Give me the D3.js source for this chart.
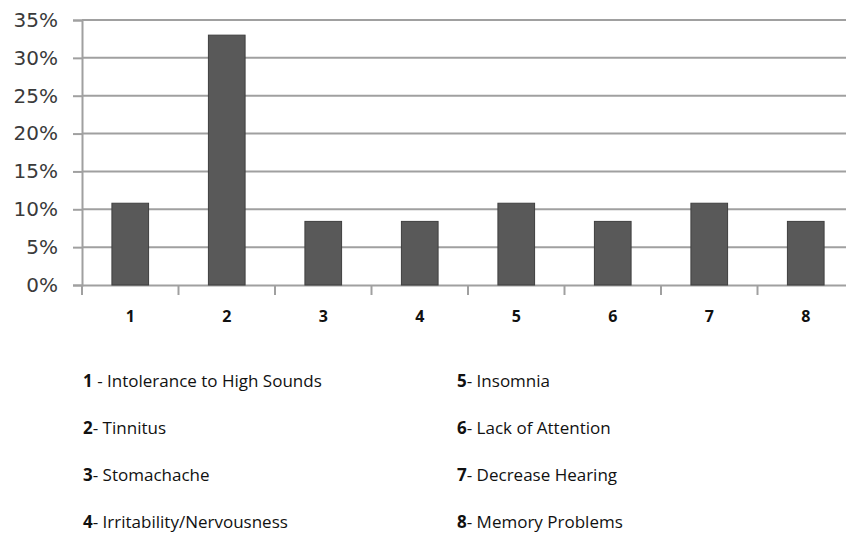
<!DOCTYPE html>
<html lang="en">
<head>
<meta charset="UTF-8">
<title>Symptoms chart</title>
<script src="https://d3js.org/d3.v7.min.js"></script>
<style>
    body { margin: 0; background: #fff; }
    svg { display: block; }
</style>
</head>
<body>
<script>

// data
const categories = ['1', '2', '3', '4', '5', '6', '7', '8'];
const values = [10.8, 33.0, 8.4, 8.4, 10.8, 8.4, 10.8, 8.4];
const yTicks = [0, 5, 10, 15, 20, 25, 30, 35];
const legendNums = ['1', '2', '3', '4', '5', '6', '7', '8'];
const legendSeps = [' - ', '- ', '- ', '- ', '- ', '- ', '- ', '- '];
const legendNames = ['Intolerance to High Sounds', 'Tinnitus', 'Stomachache', 'Irritability/Nervousness',
    'Insomnia', 'Lack of Attention', 'Decrease Hearing', 'Memory Problems'];

const W = 846, H = 533;
const svg = d3.select('body').append('svg').attr('width', W).attr('height', H);

const x = d3.scaleBand().domain(categories).range([82, 854]).paddingInner(0.62).paddingOuter(0.31);
const xb = d3.scaleBand().domain(categories).range([82, 854]);
const y = d3.scaleLinear().domain([0, 35]).range([285, 20]);

// gridlines
svg.append('g')
    .selectAll('line')
    .data(yTicks.slice(1))
    .enter()
    .append('line')
    .attr('x1', 82).attr('x2', W)
    .attr('y1', d => y(d)).attr('y2', d => y(d))
    .style('stroke', '#a0a0a0')
    .style('stroke-width', '2px');

// y axis
const yAxis = svg.append('g')
    .attr('transform', 'translate(82,0)')
    .call(d3.axisLeft(y).tickValues(yTicks).tickSize(9).tickFormat(d => d + '%'));
yAxis.select('.domain').attr('stroke', '#a0a0a0').attr('stroke-width', 2);
yAxis.selectAll('.tick line').attr('stroke', '#a0a0a0').attr('stroke-width', 2);
yAxis.selectAll('.tick text')
    .attr('x', -24)
    .style('font-family', 'DejaVu Sans')
    .style('font-size', '20px')
    .style('fill', '#3a3a3a');

// x axis
const xAxis = svg.append('g')
    .attr('transform', 'translate(0,285)')
    .call(d3.axisBottom(xb).tickSize(0).tickPadding(26));
xAxis.select('.domain').attr('stroke', '#a0a0a0').attr('stroke-width', 2);
xAxis.selectAll('.tick text')
    .style('font-family', 'Open Sans')
    .style('font-weight', 'bold')
    .style('font-size', '16px')
    .style('fill', '#111');

// category separator ticks
svg.append('g')
    .selectAll('line')
    .data(categories)
    .enter()
    .append('line')
    .attr('x1', d => xb(d)).attr('x2', d => xb(d))
    .attr('y1', 285).attr('y2', 295)
    .style('stroke', '#a0a0a0')
    .style('stroke-width', '2px');

// bars
svg.append('g')
    .selectAll('rect')
    .data(values)
    .enter()
    .append('rect')
    .attr('x', (d, i) => x(categories[i]))
    .attr('width', x.bandwidth())
    .attr('y', d => y(d))
    .attr('height', d => y(0) - y(d))
    .style('fill', '#595959')
    .style('stroke', '#3f3f3f')
    .style('stroke-width', '1px');

// legend
const legX = [83, 457];
const legY = [381, 428, 475, 522];
const leg = svg.append('g')
    .selectAll('text')
    .data(legendNames)
    .enter()
    .append('text')
    .attr('x', (d, i) => legX[Math.floor(i / 4)])
    .attr('y', (d, i) => legY[i % 4])
    .attr('dy', '0.35em')
    .style('font-family', 'Open Sans')
    .style('font-size', '17px')
    .style('fill', '#111');
leg.append('tspan').style('font-weight', 'bold').text((d, i) => legendNums[i]);
leg.append('tspan').text((d, i) => legendSeps[i] + d);

</script>
</body>
</html>
